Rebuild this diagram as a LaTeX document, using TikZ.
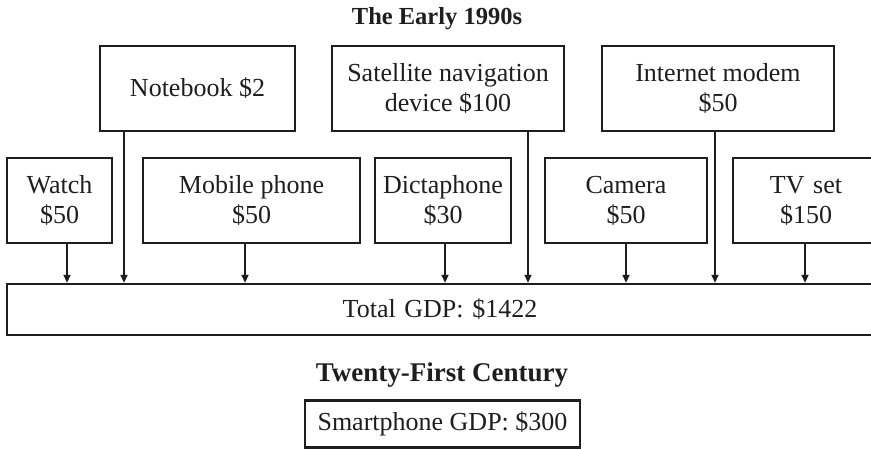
\documentclass[tikz,border=0pt]{standalone}
\usepackage{fontspec}
\setmainfont{Liberation Serif}
\usetikzlibrary{arrows.meta}
\definecolor{ink}{HTML}{1E1E1E}
\tikzset{
  box/.style={draw=ink, line width=2.4pt, rectangle, inner sep=0pt, align=center,
    text=ink, font=\fontsize{26}{30}\selectfont},
  heading/.style={text=ink, font=\fontsize{24.5}{30}\selectfont\bfseries, inner sep=0pt},
  feed/.style={draw=ink, line width=1.8pt, -{Triangle[length=8pt,width=7pt]}}
}
\begin{document}
\begin{tikzpicture}[x=1pt,y=-1pt]
  \useasboundingbox (0,0) rectangle (871,449);
  \clip (0,0) rectangle (871,449);

  % headings
  \node[heading] (early) at (437,19) {The Early 1990s};
  \node[heading, font=\fontsize{27}{30}\selectfont\bfseries] (modern) at (442,375) {Twenty-First Century};

  % upper row of devices
  \node[box, minimum width=195pt, minimum height=85pt] (notebook) at (197.5,88.5) {Notebook \$2};
  \node[box, minimum width=232pt, minimum height=85pt] (satnav) at (448,88.5) {Satellite navigation\\device \$100};
  \node[box, minimum width=232pt, minimum height=85pt] (modem) at (718,88.5) {Internet modem\\\$50};

  % lower row of devices
  \node[box, minimum width=105pt, minimum height=85pt] (watch) at (59.5,200.5) {Watch\\\$50};
  \node[box, minimum width=217pt, minimum height=85pt] (mobile) at (251.5,200.5) {Mobile phone\\\$50};
  \node[box, minimum width=136pt, minimum height=85pt] (dicta) at (443,200.5) {Dictaphone\\\$30};
  \node[box, minimum width=162pt, minimum height=85pt] (camera) at (626,200.5) {Camera\\\$50};
  \node[box, minimum width=146pt, minimum height=85pt, text width=146pt] (tv) at (806,200.5) {TV set\\\$150};

  % total
  \node[box, minimum width=880pt, minimum height=51pt, text width=860pt] (total) at (447,309.5) {\hspace*{-14pt}Total GDP: \$1422};

  % smartphone
  \node[box, minimum width=275pt, minimum height=47pt] (smart) at (442.5,424) {Smartphone GDP: \$300};

  % connectors into the total
  \draw[feed] (watch.south -| 67,0) -- (total.north -| 67,0);
  \draw[feed] (notebook.south -| 124,0) -- (total.north -| 124,0);
  \draw[feed] (mobile.south -| 245,0) -- (total.north -| 245,0);
  \draw[feed] (dicta.south -| 445,0) -- (total.north -| 445,0);
  \draw[feed] (satnav.south -| 528,0) -- (total.north -| 528,0);
  \draw[feed] (camera.south -| 626,0) -- (total.north -| 626,0);
  \draw[feed] (modem.south -| 715,0) -- (total.north -| 715,0);
  \draw[feed] (tv.south -| 805,0) -- (total.north -| 805,0);
\end{tikzpicture}
\end{document}
